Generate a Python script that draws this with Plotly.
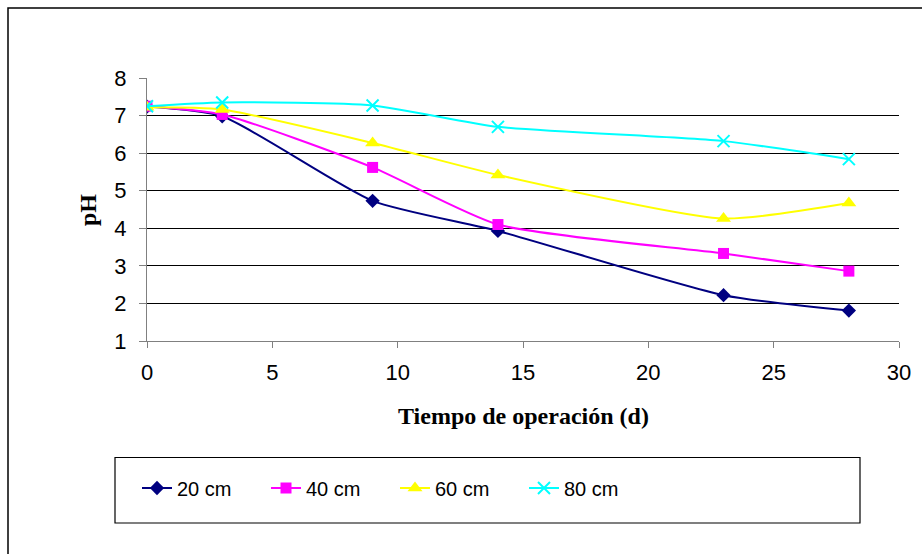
import plotly.graph_objects as go

days = [0, 3, 9, 14, 23, 28]
ph_20 = [7.24, 6.98, 4.73, 3.93, 2.22, 1.81]
ph_40 = [7.25, 7.03, 5.62, 4.10, 3.33, 2.86]
ph_60 = [7.22, 7.16, 6.27, 5.42, 4.26, 4.67]
ph_80 = [7.25, 7.35, 7.27, 6.70, 6.32, 5.84]
names = ["20 cm", "40 cm", "60 cm", "80 cm"]
series = [ph_20, ph_40, ph_60, ph_80]
colors = ["#000080", "#FF00FF", "#FFFF00", "#00FFFF"]
symbols = ["diamond", "square", "triangle-up", "x-thin"]
sizes = [11, 11, 13, 12]
x_ticks = [0, 5, 10, 15, 20, 25, 30]
y_ticks = [1, 2, 3, 4, 5, 6, 7, 8]

fig = go.Figure()
for name, ys, c, s, sz in zip(names, series, colors, symbols, sizes):
    marker = dict(symbol=s, size=sz, color=c)
    if s == "x-thin":
        marker["line"] = dict(color=c, width=2)
    fig.add_trace(go.Scatter(
        x=days, y=ys, name=name, mode="lines+markers",
        line=dict(color=c, width=2, shape="spline", smoothing=0.6),
        marker=marker,
    ))

W, H = 922, 554
L, R, T, B = 147, 899, 78, 341
pw, ph = R - L, B - T

def px(x):
    return (x - L) / pw

def py(y):
    return (B - y) / ph

fig.update_layout(
    width=W, height=H,
    margin=dict(l=L, r=W - R, t=T, b=H - B),
    paper_bgcolor="white", plot_bgcolor="white",
    font=dict(family="Liberation Sans, Arial", size=22, color="black"),
    showlegend=True,
    legend=dict(
        orientation="h", x=px(137), y=py(488), xanchor="left", yanchor="middle",
        bgcolor="rgba(0,0,0,0)", borderwidth=0,
        entrywidth=84, entrywidthmode="pixels",
        font=dict(family="Liberation Sans, Arial", size=20),
    ),
    xaxis=dict(
        range=[0, 30], tickvals=x_ticks, showgrid=False, zeroline=False,
        showline=True, linecolor="#808080", linewidth=1,
        ticks="outside", ticklen=6, tickcolor="#808080",
        ticklabelstandoff=6,
        tickfont=dict(size=22),
    ),
    yaxis=dict(
        range=[1, 8], tickvals=y_ticks, showgrid=True, gridcolor="#000000",
        gridwidth=1, zeroline=False,
        showline=True, linecolor="#808080", linewidth=1,
        ticks="outside", ticklen=7, tickcolor="#808080",
        ticklabelstandoff=8,
        tickfont=dict(size=22),
    ),
    shapes=[
        dict(type="rect", xref="paper", yref="paper",
             x0=px(8), x1=px(940), y0=py(580), y1=py(8),
             line=dict(color="black", width=1.5), layer="below"),
        dict(type="rect", xref="paper", yref="paper",
             x0=px(115), x1=px(860), y0=py(523), y1=py(457.5),
             line=dict(color="black", width=1.2), layer="below"),
    ],
    annotations=[
        dict(text="<b>Tiempo de operación (d)</b>", xref="paper", yref="paper",
             x=px(523), y=py(416), xanchor="center", yanchor="middle",
             showarrow=False,
             font=dict(family="Liberation Serif, Times New Roman", size=24)),
        dict(text="<b>pH</b>", xref="paper", yref="paper",
             x=px(88), y=py(210), xanchor="center", yanchor="middle",
             showarrow=False, textangle=-90,
             font=dict(family="Liberation Serif, Times New Roman", size=24)),
    ],
)

fig.write_html("out.html")
